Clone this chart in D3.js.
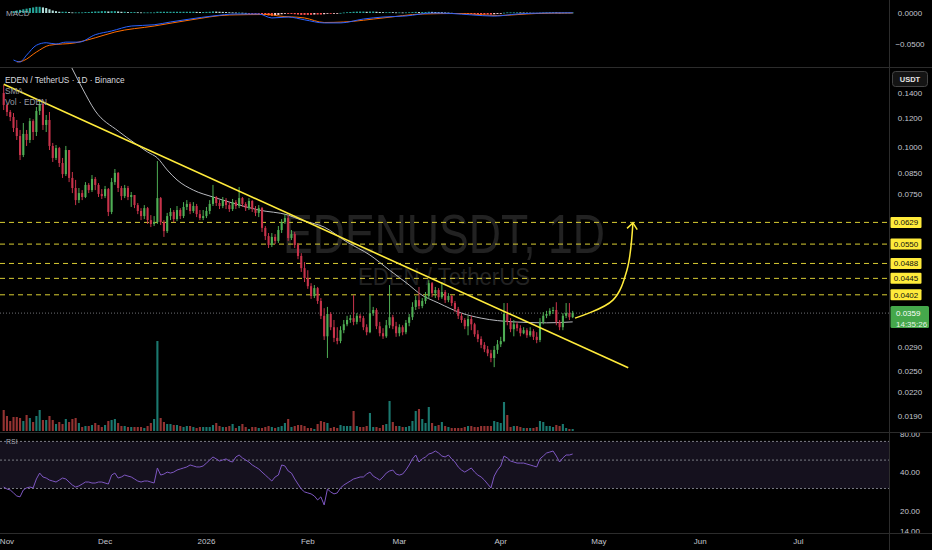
<!DOCTYPE html>
<html><head><meta charset="utf-8">
<script src="https://cdn.jsdelivr.net/npm/d3@7"></script>
<style>
html,body{margin:0;padding:0;background:#000;overflow:hidden;}
svg{display:block;}
text{font-family:"Liberation Sans",Arial,sans-serif;}
</style></head><body>
<svg id="c" width="932" height="550"></svg>
<script>
// ---------------- DATA ----------------
const startDate = "2025-10-31";
const firstOpen = 0.1400;
const closes = [
0.1300,0.1245,0.1207,0.1128,0.1073,0.0954,0.1087,0.1047,0.1177,0.1100,
0.1253,0.1308,0.1149,0.1185,0.1009,0.0937,0.0996,0.0908,0.0848,0.0984,
0.0828,0.0778,0.0722,0.0754,0.0736,0.0793,0.0768,0.0823,0.0793,0.0750,
0.0740,0.0773,0.0671,0.0807,0.0854,0.0778,0.0740,0.0778,0.0736,0.0745,
0.0700,0.0675,0.0654,0.0687,0.0638,0.0623,0.0630,0.0731,0.0630,0.0596,
0.0654,0.0671,0.0642,0.0679,0.0654,0.0692,0.0705,0.0675,0.0696,0.0662,
0.0646,0.0654,0.0675,0.0705,0.0736,0.0709,0.0696,0.0722,0.0700,0.0683,
0.0713,0.0696,0.0731,0.0705,0.0687,0.0718,0.0683,0.0667,0.0687,0.0608,
0.0578,0.0547,0.0575,0.0561,0.0600,0.0630,0.0646,0.0571,0.0585,0.0547,
0.0511,0.0474,0.0446,0.0424,0.0399,0.0419,0.0387,0.0353,0.0311,0.0357,
0.0329,0.0308,0.0302,0.0323,0.0335,0.0344,0.0348,0.0340,0.0353,0.0348,
0.0329,0.0319,0.0359,0.0366,0.0331,0.0317,0.0311,0.0333,0.0350,0.0331,
0.0317,0.0329,0.0319,0.0338,0.0350,0.0373,0.0389,0.0375,0.0387,0.0399,
0.0432,0.0406,0.0414,0.0396,0.0409,0.0389,0.0399,0.0382,0.0368,0.0353,
0.0344,0.0331,0.0346,0.0335,0.0315,0.0306,0.0295,0.0287,0.0280,0.0272,
0.0286,0.0296,0.0302,0.0357,0.0340,0.0325,0.0335,0.0327,0.0317,0.0323,
0.0313,0.0321,0.0310,0.0304,0.0340,0.0353,0.0357,0.0364,0.0366,0.0340,
0.0329,0.0353,0.0359,0.0350,0.0359];
const highs = [
0.1471,0.1308,0.1260,0.1237,0.1185,0.1114,0.1163,0.1114,0.1199,0.1190,
0.1284,0.1341,0.1316,0.1222,0.1245,0.1028,0.1015,0.1003,0.0937,0.1009,
0.0984,0.0859,0.0818,0.0778,0.0768,0.0807,0.0802,0.0843,0.0833,0.0802,
0.0773,0.0788,0.0778,0.0828,0.0875,0.0859,0.0788,0.0793,0.0788,0.0759,
0.0745,0.0709,0.0687,0.0700,0.0692,0.0658,0.0654,0.0919,0.0736,0.0638,
0.0667,0.0687,0.0679,0.0696,0.0687,0.0713,0.0722,0.0713,0.0713,0.0705,
0.0679,0.0679,0.0692,0.0722,0.0793,0.0740,0.0722,0.0736,0.0731,0.0713,
0.0727,0.0722,0.0783,0.0736,0.0713,0.0731,0.0722,0.0696,0.0700,0.0692,
0.0615,0.0589,0.0589,0.0585,0.0615,0.0642,0.0662,0.0658,0.0600,0.0593,
0.0554,0.0520,0.0492,0.0468,0.0432,0.0427,0.0422,0.0394,0.0370,0.0373,
0.0361,0.0344,0.0329,0.0331,0.0344,0.0353,0.0355,0.0401,0.0359,0.0357,
0.0353,0.0335,0.0401,0.0373,0.0370,0.0340,0.0327,0.0344,0.0427,0.0355,
0.0340,0.0335,0.0333,0.0344,0.0357,0.0384,0.0399,0.0422,0.0394,0.0409,
0.0440,0.0435,0.0422,0.0419,0.0435,0.0414,0.0406,0.0401,0.0387,0.0373,
0.0359,0.0348,0.0353,0.0353,0.0338,0.0323,0.0311,0.0300,0.0293,0.0286,
0.0293,0.0304,0.0310,0.0382,0.0382,0.0348,0.0344,0.0340,0.0333,0.0329,
0.0327,0.0329,0.0325,0.0319,0.0348,0.0361,0.0364,0.0370,0.0373,0.0384,
0.0344,0.0359,0.0382,0.0382,0.0364];
const lows = [
0.1260,0.1214,0.1177,0.1100,0.1047,0.0925,0.0942,0.1009,0.1028,0.1047,
0.1073,0.1222,0.1114,0.1100,0.0984,0.0914,0.0925,0.0886,0.0828,0.0838,
0.0807,0.0754,0.0700,0.0709,0.0722,0.0731,0.0754,0.0759,0.0768,0.0736,
0.0727,0.0731,0.0654,0.0662,0.0793,0.0759,0.0722,0.0731,0.0722,0.0692,
0.0687,0.0662,0.0638,0.0642,0.0623,0.0611,0.0615,0.0623,0.0619,0.0575,
0.0589,0.0638,0.0630,0.0634,0.0642,0.0646,0.0679,0.0662,0.0667,0.0650,
0.0638,0.0638,0.0646,0.0662,0.0696,0.0696,0.0683,0.0687,0.0683,0.0671,
0.0675,0.0683,0.0687,0.0692,0.0675,0.0679,0.0671,0.0654,0.0650,0.0593,
0.0564,0.0537,0.0540,0.0550,0.0554,0.0589,0.0623,0.0561,0.0564,0.0537,
0.0501,0.0463,0.0435,0.0417,0.0392,0.0394,0.0380,0.0346,0.0304,0.0272,
0.0323,0.0300,0.0296,0.0298,0.0317,0.0331,0.0338,0.0333,0.0335,0.0340,
0.0323,0.0313,0.0317,0.0353,0.0325,0.0311,0.0306,0.0308,0.0327,0.0325,
0.0310,0.0311,0.0313,0.0315,0.0331,0.0344,0.0366,0.0368,0.0370,0.0380,
0.0392,0.0396,0.0394,0.0389,0.0392,0.0382,0.0384,0.0375,0.0361,0.0346,
0.0338,0.0325,0.0313,0.0323,0.0310,0.0300,0.0289,0.0282,0.0275,0.0265,
0.0257,0.0279,0.0291,0.0300,0.0333,0.0319,0.0311,0.0321,0.0311,0.0315,
0.0308,0.0310,0.0304,0.0298,0.0300,0.0335,0.0348,0.0353,0.0357,0.0333,
0.0323,0.0323,0.0348,0.0344,0.0348];
// volume (relative units)
const volumes = [
21,15,10,14,14,13,10,16,13,9, 15,21,11,11,15,11,7,9,7,12,
9,12,13,8,4,5,5,6,8,6, 4,6,10,11,12,8,5,5,4,4,
4,4,4,3,5,8,12,90,13,9, 7,7,6,6,5,4,5,5,4,3,
4,4,4,4,6,8,5,4,4,5, 7,3,5,7,4,2,4,4,3,3,
4,5,4,3,4,5,8,12,4,5, 6,6,5,3,3,2,7,10,9,8,
3,4,3,6,5,5,5,20,5,4, 4,5,18,4,4,3,6,7,30,9,
5,5,4,4,5,10,20,22,12,8, 24,8,5,6,9,5,4,3,3,3,
3,4,5,5,4,4,5,5,5,5, 10,9,8,29,16,4,5,5,4,3,
3,3,3,4,10,9,5,5,4,6, 5,7,3,2,2];
const rsi = [
30.8,29.7,29.2,27.7,26.2,25.8,29.2,30.3,30.8,30.3,
35.6,39.6,36.9,36.2,34.9,34.3,33.7,34.9,36.2,35.6,
33.7,31.9,30.8,31.4,32.5,33.7,33.7,33.1,33.1,33.7,
33.7,33.1,32.5,38.2,39.6,36.2,36.9,38.2,37.5,36.9,
35.6,34.3,33.7,34.3,34.3,33.7,33.1,43.4,38.2,38.9,
40.3,39.6,40.3,41.8,42.6,43.4,44.2,45.8,45.0,44.2,
44.2,45.0,47.4,50.1,52.9,51.1,49.2,50.1,51.1,49.2,
48.3,52.9,54.8,52.0,50.1,48.3,45.8,44.2,42.6,40.3,
38.2,36.2,34.3,36.9,38.2,45.8,45.0,41.1,39.6,35.6,
32.5,29.7,28.2,27.7,27.2,26.2,24.4,25.8,22.3,29.7,
28.2,27.2,27.7,30.3,31.9,33.1,34.3,35.6,36.2,36.9,
36.9,38.9,40.3,37.5,36.2,34.9,36.9,39.6,41.1,41.8,
38.9,38.2,38.9,41.8,45.8,51.1,54.8,48.3,51.1,52.9,
55.8,56.8,58.9,56.8,53.8,52.9,54.8,51.1,48.3,44.2,
41.8,40.3,41.8,43.4,40.3,38.2,36.9,34.9,32.5,30.3,
37.5,41.8,45.0,53.8,52.0,49.2,48.3,47.4,47.4,47.4,
46.6,45.8,45.0,44.2,51.1,53.8,56.8,57.8,58.9,53.8,
48.3,52.0,54.8,54.8,55.8];
// MACD line / signal line, read at these candle numbers
const macdIdx = [3,5,7,10,13,16,19,23,28,33,39,46,51,57,64,71,78,82,87,92,98,103,110,116,123,131,137,143,150,157,165,174];
const macdVals = [-0.0758,-0.0790,-0.0680,-0.0520,-0.0480,-0.0500,-0.0470,-0.0470,-0.0350,-0.0290,-0.0210,-0.0190,-0.0145,-0.0097,-0.0048,-0.0016,-0.0016,-0.0080,-0.0065,-0.0110,-0.0160,-0.0160,-0.0097,-0.0065,-0.0048,0.0000,-0.0008,-0.0030,-0.0050,-0.0016,0.0000,0.0003];
const signalIdx = [4,6,10,14,22,28,34,46,57,69,81,84,92,98,104,116,128,139,151,163,174];
const signalVals = [-0.0790,-0.0770,-0.0630,-0.0520,-0.0480,-0.0400,-0.0307,-0.0210,-0.0113,-0.0032,-0.0024,-0.0048,-0.0080,-0.0153,-0.0145,-0.0080,-0.0016,-0.0008,-0.0040,-0.0008,0.0000];
// MACD histogram, in thousandths
const histK = [
null,null,null,3,4,5,6,7,8,9, 10,10,9,8,6,4,3,2,2,2,
1.5,1,1,1,1,1.5,1.5,2,2.5,2.5, 3,3,2.5,3,3,2.5,2,2,1.5,1.5,
1.5,1.2,1,1,1,1,1,2,2,2, 2,2,2,2,2,2,2,2,2,1.8,
1.6,1.6,1.8,2,2.5,2.3,2,1.8,1.6,1.2, 1,0.8,0.8,0.5,0.2,-0.3,-0.6,-1,-1.3,-2,
-3,-4,-4.5,-4,-3,-2,-1,-1.5,-1.5,-2, -2.5,-3,-3,-3,-3,-2.5,-2.5,-2.5,-2,-1,
-1,-0.8,-0.5,0.2,0.8,1.2,1.6,2,2.2,2.3, 2.3,2,2.3,2.4,2,1.6,1.3,1.3,1.5,1.3,
1,1,0.9,1,1.2,1.5,1.8,1.6,1.6,1.6, 2,1.8,1.6,1.3,1.2,0.9,0.7,0.3,-0.2,-0.6,
-1,-1.4,-1.5,-1.7,-2,-2.2,-2.4,-2.5,-2.5,-2.5, -2,-1.5,-1,0.5,1,1,1,1,0.9,0.8,
0.6,0.5,0.3,0.2,0.5,0.8,1,1.2,1.3,1, 0.7,0.8,0.8,0.8,0.8];
// SMA, read at these candle numbers
const smaIdx = [17,21,24,28,35,40,44,47,50,53,58,64,70,78,87,91,98,105,112,118,124,127,133,140,146,156,166,174];
const smaVals = [0.1919,0.1624,0.1444,0.1253,0.1107,0.1028,0.0972,0.0937,0.0870,0.0818,0.0768,0.0736,0.0709,0.0679,0.0658,0.0638,0.0611,0.0557,0.0514,0.0468,0.0427,0.0406,0.0382,0.0359,0.0348,0.0340,0.0338,0.0340];
const levels = [0.0629, 0.0550, 0.0488, 0.0445, 0.0402];
const lastPrice = 0.0359;
const countdown = "14:35:26";
const priceTicks = [0.1400,0.1200,0.1000,0.0850,0.0750,0.0290,0.0250,0.0220,0.0190];
const rsiTicks = [80,40,20,14];
const rsiBands = [70,50,30];
const macdTicks = [0,-0.05];
const monthTicks = [["2025-11-01","Nov"],["2025-12-01","Dec"],["2026-01-01","2026"],["2026-02-01","Feb"],["2026-03-01","Mar"],["2026-04-01","Apr"],["2026-05-01","May"],["2026-06-01","Jun"],["2026-07-01","Jul"]];
const trendline = [["2025-10-31T00:00",0.1477],["2026-05-10T00:00",0.0256]];
const arrowPath = [["2026-04-23T17:00",0.0348],["2026-05-05T07:00",0.0389],["2026-05-09T14:00",0.0468],["2026-05-11T10:00",0.0627]];

// ---------------- LAYOUT ----------------
const W = 932, H = 550, plotR = 889;
const macdPane = {top:0, bottom:67};
const mainPane = {top:68, bottom:432};
const rsiPane = {top:432, bottom:533};
const C = {
  up:"#4fae55", down:"#c8334b",
  volUp:"rgba(38,166,154,0.72)", volDown:"rgba(239,83,80,0.62)",
  text:"#c3c6ce", sep:"#2c2c2c", yellow:"#ffeb3b"
};

const svg = d3.select("#c");
svg.append("rect").attr("width",W).attr("height",H).attr("fill","#000");
const defs = svg.append("defs");
function clip(id, y0, y1){ defs.append("clipPath").attr("id",id).append("rect").attr("x",0).attr("y",y0).attr("width",plotR).attr("height",y1-y0); }
clip("cMacd", macdPane.top, macdPane.bottom);
clip("cMain", mainPane.top, mainPane.bottom);
clip("cRsi", rsiPane.top, rsiPane.bottom);

const t0 = d3.utcParse("%Y-%m-%d")(startDate);
const n = closes.length;
const dates = d3.range(n).map(i => d3.utcDay.offset(t0, i));
const opens = closes.map((c,i) => i===0 ? firstOpen : closes[i-1]);
const isUp = i => closes[i] >= opens[i];

const x = d3.scaleUtc().domain([t0, d3.utcDay.offset(t0,270)]).range([3.7, 3.7+3.27*270]);
const y = d3.scaleLog().domain([0.019, 0.14]).range([416, 93]);
const yVol = d3.scaleLinear().domain([0, d3.max(volumes)]).range([431, 341]);
const yRsi = d3.scaleLog().domain([20, 80]).range([511, 434]);
const yMacd = d3.scaleLinear().domain([-0.05, 0]).range([44, 13]);
const parseT = d3.utcParse("%Y-%m-%dT%H:%M");
const bw = 2.1;

// ---------- MACD pane ----------
const gM = svg.append("g").attr("clip-path","url(#cMacd)");
gM.selectAll("rect.h").data(d3.range(n).filter(i => histK[i] !== null)).join("rect")
  .attr("x", i => x(dates[i]) - bw/2).attr("width", bw)
  .attr("y", i => Math.min(yMacd(histK[i]/1000), yMacd(0)))
  .attr("height", i => Math.max(0.8, Math.abs(yMacd(histK[i]/1000) - yMacd(0))))
  .attr("fill", i => {
    const v = histK[i], p = i>0 && histK[i-1]!==null ? histK[i-1] : v;
    if (v >= 0) return v >= p ? "#26a69a" : "#b2dfdb";
    return v <= p ? "#ff5252" : "#ffcdd2";
  });
const lineIdx = (idx, vals, sc) => d3.line().curve(d3.curveMonotoneX)
  .x((d,k) => x(dates[idx[k]])).y(d => sc(d))(vals);
gM.append("path").attr("d", lineIdx(signalIdx, signalVals, yMacd)).attr("fill","none").attr("stroke","#ff6d00").attr("stroke-width",1);
gM.append("path").attr("d", lineIdx(macdIdx, macdVals, yMacd)).attr("fill","none").attr("stroke","#2962ff").attr("stroke-width",1);
svg.append("text").attr("x",6).attr("y",16).attr("font-size",8).attr("fill","#a3a6af").text("MACD");

// ---------- MAIN pane ----------
const g = svg.append("g").attr("clip-path","url(#cMain)");
g.append("text").attr("x",444).attr("y",253).attr("text-anchor","middle").attr("font-size",56)
  .attr("textLength",322).attr("lengthAdjust","spacingAndGlyphs").attr("fill","#222222").text("EDENUSDT, 1D");
g.append("text").attr("x",444).attr("y",285).attr("text-anchor","middle").attr("font-size",23)
  .attr("textLength",172).attr("lengthAdjust","spacingAndGlyphs").attr("fill","#222222").text("EDEN / TetherUS");
g.selectAll("rect.v").data(d3.range(n)).join("rect")
  .attr("x", i => x(dates[i]) - bw/2).attr("width", bw)
  .attr("y", i => yVol(volumes[i])).attr("height", i => yVol(0) - yVol(volumes[i]))
  .attr("fill", i => isUp(i) ? C.volUp : C.volDown);
g.selectAll("line.lv").data(levels).join("line")
  .attr("x1",0).attr("x2",plotR).attr("y1",d=>y(d)).attr("y2",d=>y(d))
  .attr("stroke","#d9cd33").attr("stroke-width",1).attr("stroke-dasharray","5,4");
g.append("line").attr("x1",0).attr("x2",plotR).attr("y1",y(lastPrice)).attr("y2",y(lastPrice))
  .attr("stroke","#6d6f75").attr("stroke-width",1).attr("stroke-dasharray","1,2");
g.append("path").attr("d", lineIdx(smaIdx, smaVals, y)).attr("fill","none").attr("stroke","#b8babf").attr("stroke-width",1);
g.selectAll("line.w").data(d3.range(n)).join("line")
  .attr("x1", i => x(dates[i])).attr("x2", i => x(dates[i]))
  .attr("y1", i => y(highs[i])).attr("y2", i => y(lows[i]))
  .attr("stroke", i => isUp(i) ? C.up : C.down).attr("stroke-width",1);
g.selectAll("rect.b").data(d3.range(n)).join("rect")
  .attr("x", i => x(dates[i]) - bw/2).attr("width", bw)
  .attr("y", i => y(Math.max(opens[i], closes[i])))
  .attr("height", i => Math.max(1, Math.abs(y(opens[i]) - y(closes[i]))))
  .attr("fill", i => isUp(i) ? C.up : C.down);
g.append("line")
  .attr("x1", x(parseT(trendline[0][0]))).attr("y1", y(trendline[0][1]))
  .attr("x2", x(parseT(trendline[1][0]))).attr("y2", y(trendline[1][1]))
  .attr("stroke", C.yellow).attr("stroke-width",1.6);
const ap = arrowPath.map(d => [x(parseT(d[0])), y(d[1])]);
g.append("path").attr("d", d3.line().curve(d3.curveCatmullRom)(ap)).attr("fill","none").attr("stroke",C.yellow).attr("stroke-width",1.5);
{
  const tip = ap[ap.length-1], prev = ap[ap.length-2];
  const ang = Math.atan2(tip[1]-prev[1], tip[0]-prev[0]);
  const L = 8, spread = 0.7;
  const a1 = [tip[0] - L*Math.cos(ang-spread), tip[1] - L*Math.sin(ang-spread)];
  const a2 = [tip[0] - L*Math.cos(ang+spread), tip[1] - L*Math.sin(ang+spread)];
  g.append("path").attr("d", d3.line()([a1, tip, a2])).attr("fill","none").attr("stroke",C.yellow).attr("stroke-width",1.5);
}
svg.append("text").attr("x",5).attr("y",83).attr("font-size",8.3).attr("fill","#d7d9df").text("EDEN / TetherUS · 1D · Binance");
svg.append("text").attr("x",5).attr("y",94).attr("font-size",8.3).attr("fill","#9a9da6").text("SMA");
svg.append("text").attr("x",5).attr("y",105).attr("font-size",8.3).attr("fill","#9a9da6").text("Vol · EDEN");

// ---------- RSI pane ----------
const gR = svg.append("g").attr("clip-path","url(#cRsi)");
gR.append("rect").attr("x",0).attr("width",plotR).attr("y",yRsi(70)).attr("height",yRsi(30)-yRsi(70)).attr("fill","#15111e");
gR.selectAll("line.rb").data(rsiBands).join("line")
  .attr("x1",0).attr("x2",plotR).attr("y1",d=>yRsi(d)).attr("y2",d=>yRsi(d))
  .attr("stroke","#7a7c84").attr("stroke-width",1).attr("stroke-dasharray","2,2");
gR.append("path").attr("d", d3.line().x((d,i)=>x(dates[i])).y(d=>yRsi(d))(rsi))
  .attr("fill","none").attr("stroke","#7e57c2").attr("stroke-width",1);
svg.append("text").attr("x",6).attr("y",444).attr("font-size",7).attr("fill","#a3a6af").text("RSI");

// ---------- separators ----------
[macdPane.bottom+0.5, mainPane.bottom+0.5, rsiPane.bottom+0.5].forEach(v=>{
  svg.append("line").attr("x1",0).attr("x2",W).attr("y1",v).attr("y2",v).attr("stroke",C.sep);
});
svg.append("line").attr("x1",plotR+0.5).attr("x2",plotR+0.5).attr("y1",0).attr("y2",H).attr("stroke",C.sep);

// ---------- right axis ----------
const axX = 910;
const fmt4 = d3.format(".4f"), fmt2 = d3.format(".2f");
const gA = svg.append("g");
gA.append("g").selectAll("text").data(priceTicks).join("text")
  .attr("x",axX).attr("y",d=>y(d)).attr("dy","0.35em").attr("text-anchor","middle")
  .attr("font-size",8).attr("fill",C.text).text(d=>fmt4(d));
gA.selectAll("text.m").data(macdTicks).join("text")
  .attr("x",axX).attr("y",d=>yMacd(d)).attr("dy","0.35em").attr("text-anchor","middle")
  .attr("font-size",8).attr("fill",C.text).text(d=>fmt4(d).replace("-","\u2212"));
defs.append("clipPath").attr("id","cRsiAx").append("rect").attr("x",plotR).attr("y",rsiPane.top+1).attr("width",W-plotR).attr("height",rsiPane.bottom-rsiPane.top-1);
gA.append("g").attr("clip-path","url(#cRsiAx)").selectAll("text").data(rsiTicks).join("text")
  .attr("x",axX).attr("y",d=>yRsi(d)).attr("dy","0.35em").attr("text-anchor","middle")
  .attr("font-size",8).attr("fill",C.text).text(d=>fmt2(d));
levels.forEach(v=>{
  gA.append("rect").attr("x",890.5).attr("y",y(v)-5.5).attr("width",31).attr("height",11).attr("rx",1).attr("fill",C.yellow);
  gA.append("text").attr("x",906).attr("y",y(v)).attr("dy","0.35em").attr("text-anchor","middle").attr("font-size",8).attr("fill","#111").text(fmt4(v));
});
gA.append("rect").attr("x",890.5).attr("y",y(lastPrice)-7).attr("width",38.5).attr("height",22).attr("rx",1.5).attr("fill","#45a84b");
gA.append("text").attr("x",896).attr("y",y(lastPrice)).attr("dy","0.35em").attr("font-size",8).attr("fill","#fff").text(fmt4(lastPrice));
gA.append("text").attr("x",896).attr("y",y(lastPrice)+11).attr("dy","0.35em").attr("font-size",8).attr("fill","#e6f4e6").text(countdown);
gA.append("rect").attr("x",892.5).attr("y",71.5).attr("width",35).attr("height",15).attr("rx",3).attr("fill","#141414").attr("stroke","#454545");
gA.append("text").attr("x",910).attr("y",79).attr("dy","0.35em").attr("text-anchor","middle").attr("font-size",7.5).attr("font-weight","bold").attr("fill","#e6e6e6").text("USDT");

// ---------- time axis ----------
svg.append("g").selectAll("text").data(monthTicks).join("text")
  .attr("x", d => x(d3.utcParse("%Y-%m-%d")(d[0]))).attr("y",544).attr("text-anchor","middle")
  .attr("font-size",8).attr("fill",C.text).text(d=>d[1]);
</script>
</body></html>
